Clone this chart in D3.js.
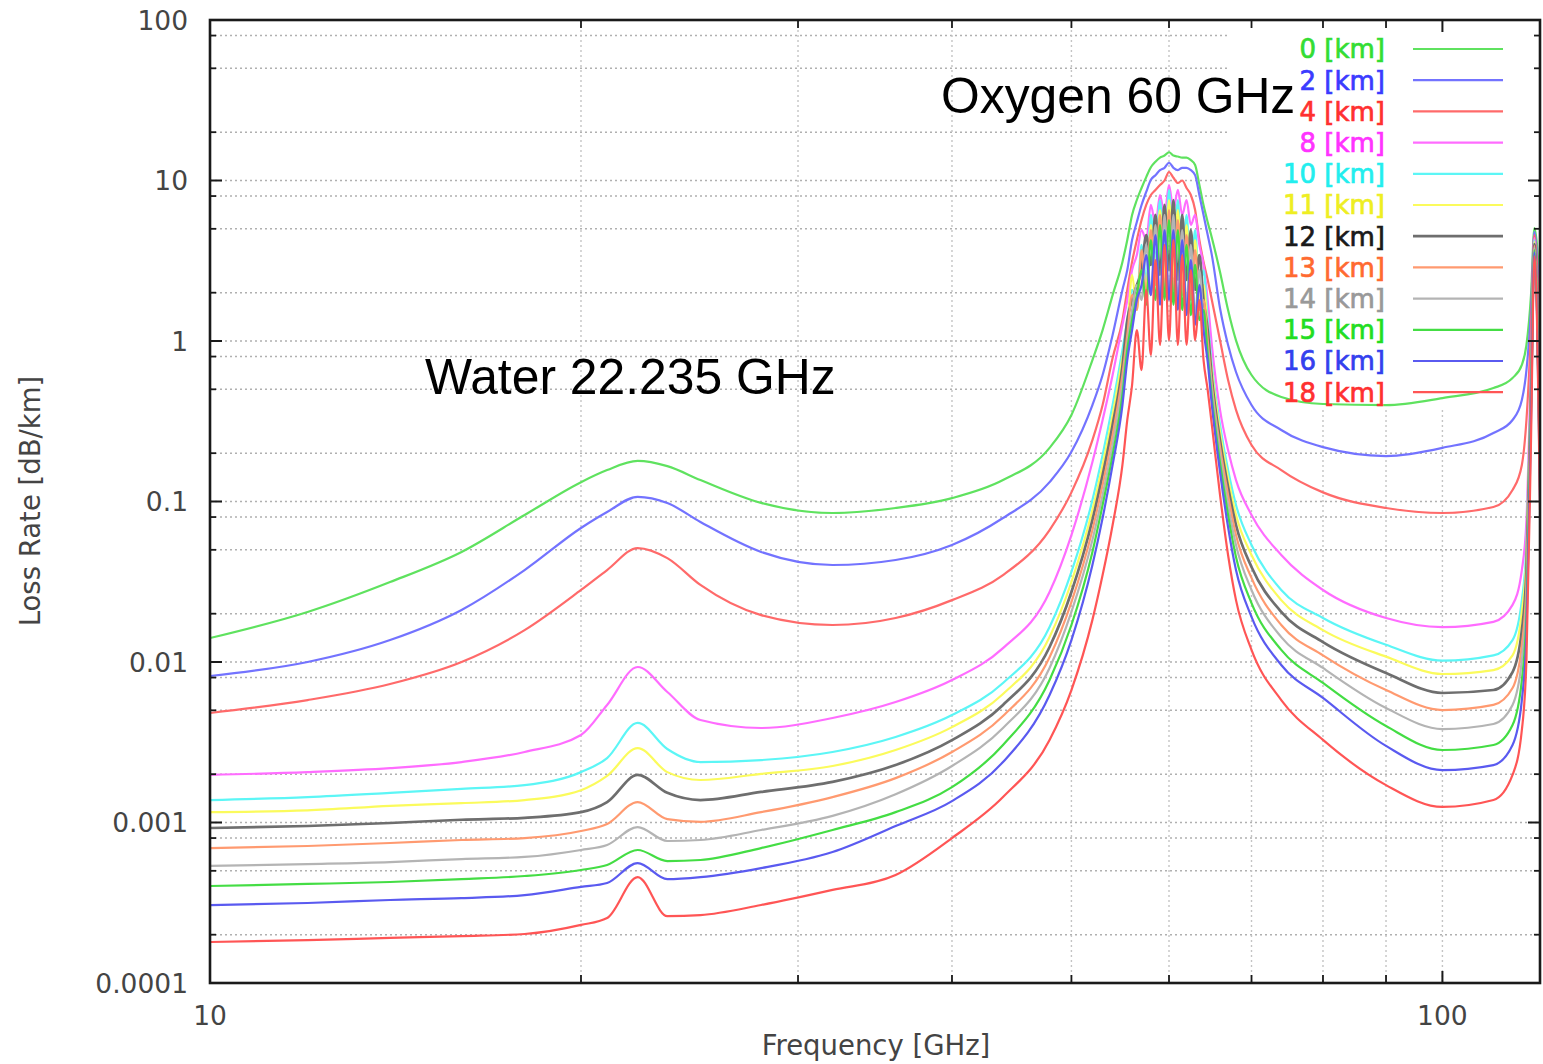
<!DOCTYPE html>
<html><head><meta charset="utf-8">
<script src="https://cdn.jsdelivr.net/npm/d3@7"></script>
<style>
html,body{margin:0;padding:0;background:#fff;}
svg{display:block;}
</style></head>
<body>
<svg id="chart" width="1543" height="1064"></svg>
<script>
// ---------- data (frequency in GHz, loss in dB/km) ----------
const freqs = [10, 12, 14, 16, 18, 20, 21, 22.235, 23.5, 25, 28, 32, 36, 40, 44, 48, 50, 52, 53, 54,
  55, 55.5, 56, 56.5, 57, 57.5, 58, 58.5, 59, 59.5, 60, 60.5, 61, 61.5, 62, 62.5, 63, 63.5, 64, 64.5,
  65, 66, 67, 68, 70, 74, 80, 90, 100, 110, 114, 116, 117, 118, 118.75, 120];

const altitudes = ["0", "2", "4", "8", "10", "11", "12", "13", "14", "15", "16", "18"];

const loss0km = [0.0141, 0.0205, 0.0315, 0.0485, 0.0824, 0.132, 0.157, 0.179, 0.166, 0.136,
  0.098, 0.0848, 0.0911, 0.105, 0.136, 0.216, 0.346, 0.761, 1.17, 1.93,
  3.11, 4.26, 6.1, 7.56, 8.98, 10.5, 12.1, 13.1, 13.9, 14.3,
  15.0, 14.3, 14.1, 13.9, 13.9, 13.4, 12.5, 9.4, 7.0, 5.5,
  4.4, 2.69, 1.56, 1.01, 0.614, 0.448, 0.405, 0.399, 0.441, 0.509,
  0.588, 0.709, 0.944, 1.93, 5.06, 2.08];
const loss2km = [0.00818, 0.0100, 0.0137, 0.0211, 0.0374, 0.0684, 0.0860, 0.107, 0.0979, 0.0745,
  0.0485, 0.0402, 0.0432, 0.0536, 0.0789, 0.132, 0.204, 0.399, 0.614, 1.09,
  2.08, 2.77, 4.26, 5.51, 7.04, 8.48, 10.1, 10.8, 11.6, 12.0,
  12.9, 12.0, 11.6, 12.0, 12.0, 11.6, 10.8, 8.12, 6.1, 4.57,
  3.43, 1.60, 0.944, 0.641, 0.399, 0.279, 0.218, 0.192, 0.216, 0.267,
  0.322, 0.429, 0.659, 1.56, 4.78, 1.35];
const loss4km = [0.00481, 0.00579, 0.00729, 0.0100, 0.0158, 0.0281, 0.0374, 0.0513, 0.0444, 0.0302,
  0.0196, 0.0170, 0.0188, 0.0243, 0.0348, 0.0664, 0.114, 0.241, 0.399, 0.784,
  1.35, 2.08, 3.11, 4.26, 5.67, 7.04, 8.12, 8.73, 9.37, 10.0,
  11.3, 10.4, 9.65, 10.0, 8.98, 8.12, 6.55, 4.26, 3.11, 2.40,
  1.80, 1.01, 0.571, 0.372, 0.225, 0.157, 0.114, 0.0911, 0.0848, 0.0924,
  0.118, 0.169, 0.322, 1.17, 4.57, 0.879];
const loss8km = [0.00198, 0.00206, 0.00218, 0.00238, 0.00275, 0.00351, 0.0054, 0.00931, 0.0065, 0.00435,
  0.00388, 0.00448, 0.00563, 0.00772, 0.0122, 0.0273, 0.0618, 0.176, 0.322, 0.614,
  1.26, 1.80, 2.77, 3.43, 4.91, 4.26, 7.04, 5.28, 8.12, 6.1,
  9.37, 6.55, 8.73, 6.1, 7.56, 5.28, 6.1, 3.97, 2.98, 1.80,
  0.944, 0.372, 0.209, 0.136, 0.0824, 0.0464, 0.0281, 0.0188, 0.0165, 0.0178,
  0.0227, 0.0374, 0.0767, 0.761, 4.38, 0.322];
const loss10km = [0.00138, 0.00144, 0.00153, 0.00162, 0.00171, 0.00206, 0.00252, 0.00417, 0.00287, 0.00238,
  0.00245, 0.00275, 0.00341, 0.00467, 0.0074, 0.0165, 0.0364, 0.102, 0.195, 0.399,
  0.879, 1.35, 2.08, 1.80, 3.97, 2.40, 6.1, 3.19, 7.56, 2.77,
  8.73, 2.98, 7.56, 2.58, 6.1, 2.40, 4.91, 2.08, 2.77, 1.35,
  0.709, 0.300, 0.157, 0.0951, 0.0536, 0.0281, 0.0188, 0.0128, 0.0102, 0.0110,
  0.0137, 0.0243, 0.0536, 0.571, 4.26, 0.241];
const loss11km = [0.00116, 0.00119, 0.00127, 0.00132, 0.00138, 0.00159, 0.00195, 0.00291, 0.00206, 0.00184,
  0.00201, 0.00225, 0.00283, 0.00393, 0.00632, 0.0143, 0.0315, 0.0885, 0.169, 0.346,
  0.784, 1.17, 2.58, 1.56, 3.43, 2.08, 5.28, 2.77, 6.55, 2.40,
  7.56, 2.58, 6.55, 2.23, 5.28, 2.08, 4.26, 1.80, 2.23, 1.17,
  0.659, 0.271, 0.140, 0.0824, 0.0464, 0.0243, 0.0158, 0.0108, 0.00842, 0.00891,
  0.0110, 0.0205, 0.0464, 0.532, 4.14, 0.209];
const loss12km = [0.000924, 0.000951, 0.000993, 0.00104, 0.00107, 0.00116, 0.00134, 0.00198, 0.00153, 0.00138,
  0.00155, 0.00179, 0.00228, 0.00326, 0.0054, 0.0124, 0.0273, 0.0767, 0.146, 0.300,
  0.698, 1.35, 1.80, 2.23, 2.77, 4.57, 2.98, 6.1, 2.58, 7.04,
  2.77, 7.56, 2.40, 6.1, 2.40, 4.91, 2.08, 3.43, 1.80, 1.17,
  0.588, 0.241, 0.123, 0.0714, 0.0391, 0.0205, 0.0133, 0.00854, 0.00641, 0.00669,
  0.00866, 0.0158, 0.0374, 0.495, 4.02, 0.181];
const loss13km = [0.000693, 0.000714, 0.000745, 0.000778, 0.0008, 0.000885, 0.000979, 0.00134, 0.00105, 0.00101,
  0.00116, 0.00144, 0.00189, 0.00275, 0.00461, 0.0107, 0.0236, 0.0664, 0.127, 0.259,
  0.614, 1.09, 1.93, 1.56, 3.69, 1.93, 4.91, 2.23, 6.1, 2.08,
  6.55, 2.08, 5.67, 1.93, 4.57, 1.80, 3.69, 1.56, 1.80, 1.01,
  0.532, 0.218, 0.110, 0.0618, 0.0334, 0.0170, 0.0110, 0.00669, 0.00502, 0.0054,
  0.00688, 0.0128, 0.0302, 0.429, 3.91, 0.157];
const loss14km = [0.000536, 0.000551, 0.000567, 0.000592, 0.000610, 0.000674, 0.000724, 0.000937, 0.000767, 0.000778,
  0.000898, 0.00110, 0.00150, 0.00225, 0.00388, 0.00918, 0.0205, 0.0575, 0.110, 0.225,
  0.532, 0.944, 1.56, 2.23, 1.80, 3.97, 1.93, 5.28, 1.80, 6.1,
  1.93, 6.1, 1.80, 4.91, 1.68, 3.97, 1.45, 2.77, 1.35, 0.879,
  0.495, 0.195, 0.0951, 0.0536, 0.0281, 0.0143, 0.00918, 0.00517, 0.00382, 0.00411,
  0.0054, 0.0103, 0.0243, 0.399, 3.80, 0.136];
const loss15km = [0.000402, 0.000414, 0.000426, 0.000444, 0.000464, 0.000506, 0.000544, 0.000674, 0.000575, 0.000584,
  0.000693, 0.000898, 0.00116, 0.00166, 0.00304, 0.00772, 0.0170, 0.0485, 0.0951, 0.195,
  0.461, 0.879, 1.35, 1.93, 2.77, 1.68, 4.26, 1.80, 5.28, 1.80,
  5.67, 1.68, 4.91, 1.56, 3.97, 1.45, 2.98, 1.35, 1.56, 0.818,
  0.441, 0.174, 0.0824, 0.0451, 0.0233, 0.0119, 0.00740, 0.00399, 0.00283, 0.00304,
  0.00405, 0.00772, 0.0196, 0.372, 3.69, 0.118];
const loss16km = [0.000306, 0.000315, 0.000329, 0.000338, 0.000353, 0.000397, 0.00042, 0.000559, 0.000444, 0.000457,
  0.00052, 0.000655, 0.000951, 0.00136, 0.00238, 0.00623, 0.0137, 0.0402, 0.0789, 0.169,
  0.399, 0.761, 1.17, 1.80, 2.23, 3.43, 1.93, 4.57, 1.68, 4.91,
  1.80, 4.91, 1.56, 4.26, 1.45, 3.19, 1.26, 2.23, 1.17, 0.740,
  0.399, 0.153, 0.0694, 0.0374, 0.0191, 0.00958, 0.00597, 0.00300, 0.00212, 0.00228,
  0.00304, 0.00579, 0.0147, 0.322, 3.57, 0.102];
const loss18km = [0.000180, 0.000185, 0.000191, 0.000196, 0.000202, 0.000230, 0.000254, 0.000457, 0.000261, 0.000265,
  0.000306, 0.000380, 0.000471, 0.000800, 0.00144, 0.00327, 0.00669, 0.0183, 0.0348, 0.0714,
  0.169, 0.322, 0.532, 1.17, 0.659, 2.08, 0.818, 3.19, 0.944, 3.97,
  1.01, 4.26, 0.944, 3.43, 0.944, 2.77, 1.01, 1.80, 0.761, 0.495,
  0.300, 0.110, 0.0464, 0.0243, 0.0119, 0.00579, 0.00327, 0.00171, 0.00125, 0.00138,
  0.00198, 0.00377, 0.0103, 0.241, 3.37, 0.0885];

const seriesValues = [loss0km, loss2km, loss4km, loss8km, loss10km, loss11km,
  loss12km, loss13km, loss14km, loss15km, loss16km, loss18km];

const yTickValues = [100, 10, 1, 0.1, 0.01, 0.001, 0.0001];
const yTickLabels = ["100", "10", "1", "0.1", "0.01", "0.001", "0.0001"];
const xTickValues = [10, 100];
const xTickLabels = ["10", "100"];
const xMinorTicks = [20, 30, 40, 50, 60, 70, 80, 90];
const yMinorMantissas = [2, 5, 8];

// ---------- styles ----------
const lineColors = ["#5fe25f", "#7373ff", "#ff6a6a", "#ff6cff", "#5cf6f6", "#fbfb5c",
  "#6e6e6e", "#ff9a70", "#b4b4b4", "#44dd44", "#5a5af0", "#ff5555"];
const labelColors = ["#33dd33", "#3b3bff", "#ff3030", "#ff33ff", "#22eeee", "#eeee22",
  "#1a1a1a", "#ff6a30", "#999999", "#22dd22", "#3340ee", "#ff3030"];

const svg = d3.select("#chart");
const L = 210, R = 1540, T = 20, B = 983;
const x = d3.scaleLog().domain([10, 120]).range([L, R]);
const y = d3.scaleLog().domain([1e-4, 100]).range([B, T]);

svg.append("rect").attr("width", 1543).attr("height", 1064).attr("fill", "#fff");

// grid
const gGrid = svg.append("g");
const hGrid = [];
for (let e = -4; e <= 1; e++) {
  [1].concat(yMinorMantissas).forEach(m => { const v = m * Math.pow(10, e); if (v > 1e-4 && v < 100) hGrid.push(v); });
}
gGrid.selectAll(".hg").data(hGrid).join("line")
  .attr("x1", L).attr("x2", R).attr("y1", d => y(d)).attr("y2", d => y(d))
  .attr("stroke", "#b0b0b0").attr("stroke-width", 1.4).attr("stroke-dasharray", "2,3");
gGrid.selectAll(".vg").data(xMinorTicks.concat([100])).join("line")
  .attr("x1", d => x(d)).attr("x2", d => x(d)).attr("y1", T).attr("y2", B)
  .attr("stroke", "#c4c4c4").attr("stroke-width", 1.4).attr("stroke-dasharray", "2,3");

// legend background (key area hides the grid)
svg.append("rect").attr("x", 1228).attr("y", T + 1).attr("width", R - 1228 - 1).attr("height", 386)
  .attr("fill", "#fff");

// curves
svg.append("clipPath").attr("id", "plotclip").append("rect")
  .attr("x", L).attr("y", T).attr("width", R - L).attr("height", B - T);
const line = d3.line().x(d => x(d[0])).y(d => y(d[1])).curve(d3.curveMonotoneX);
const gLines = svg.append("g").attr("clip-path", "url(#plotclip)");
seriesValues.forEach((vals, i) => {
  const pts = freqs.map((f, j) => [f, vals[j]]).filter(d => d[1] !== undefined);
  gLines.append("path").datum(pts).attr("d", line)
    .attr("fill", "none").attr("stroke", lineColors[i])
    .attr("stroke-width", i === 6 ? 2.7 : 2.2).attr("stroke-linejoin", "round");
});

// axes: border + ticks
const gAx = svg.append("g").attr("stroke", "#1a1a1a");
gAx.append("rect").attr("x", L).attr("y", T).attr("width", R - L).attr("height", B - T)
  .attr("fill", "none").attr("stroke-width", 2.6);
yTickValues.forEach(v => {
  gAx.append("line").attr("x1", L).attr("x2", L + 12).attr("y1", y(v)).attr("y2", y(v)).attr("stroke-width", 2);
  gAx.append("line").attr("x1", R).attr("x2", R - 12).attr("y1", y(v)).attr("y2", y(v)).attr("stroke-width", 2);
});
hGrid.filter(v => !yTickValues.includes(v)).forEach(v => {
  gAx.append("line").attr("x1", L).attr("x2", L + 6).attr("y1", y(v)).attr("y2", y(v)).attr("stroke-width", 1.8);
  gAx.append("line").attr("x1", R).attr("x2", R - 6).attr("y1", y(v)).attr("y2", y(v)).attr("stroke-width", 1.8);
});
xMinorTicks.forEach(v => {
  gAx.append("line").attr("x1", x(v)).attr("x2", x(v)).attr("y1", B).attr("y2", B - 8).attr("stroke-width", 1.8);
  gAx.append("line").attr("x1", x(v)).attr("x2", x(v)).attr("y1", T).attr("y2", T + 8).attr("stroke-width", 1.8);
});
[100].forEach(v => {
  gAx.append("line").attr("x1", x(v)).attr("x2", x(v)).attr("y1", B).attr("y2", B - 12).attr("stroke-width", 2);
  gAx.append("line").attr("x1", x(v)).attr("x2", x(v)).attr("y1", T).attr("y2", T + 12).attr("stroke-width", 2);
});

// tick labels
const tickFont = "'DejaVu Sans', sans-serif";
svg.selectAll(".yl").data(yTickValues).join("text")
  .attr("x", 188).attr("y", d => y(d)).attr("dy", "0.36em")
  .attr("text-anchor", "end").attr("font-family", tickFont).attr("font-size", 26.5)
  .attr("fill", "#444").text((d, i) => yTickLabels[i]);
svg.selectAll(".xl").data(xTickValues).join("text")
  .attr("x", d => x(d)).attr("y", 1015).attr("dy", "0.36em")
  .attr("text-anchor", "middle").attr("font-family", tickFont).attr("font-size", 26.5)
  .attr("fill", "#444").text((d, i) => xTickLabels[i]);

// axis titles
svg.append("text").attr("x", 876).attr("y", 1045).attr("dy", "0.36em")
  .attr("text-anchor", "middle").attr("font-family", tickFont).attr("font-size", 27.5)
  .attr("fill", "#444").text("Frequency [GHz]");
svg.append("text").attr("transform", "translate(30,501) rotate(-90)").attr("dy", "0.36em")
  .attr("text-anchor", "middle").attr("font-family", tickFont).attr("font-size", 27.5)
  .attr("fill", "#444").text("Loss Rate [dB/km]");

// legend
const gLeg = svg.append("g");
altitudes.forEach((a, i) => {
  const ly = 49 + i * 31.2;
  gLeg.append("text").attr("x", 1385).attr("y", ly).attr("dy", "0.36em")
    .attr("text-anchor", "end").attr("font-family", tickFont).attr("font-size", 26)
    .attr("fill", labelColors[i]).attr("stroke", labelColors[i]).attr("stroke-width", 0.7)
    .text(a + " [km]");
  gLeg.append("line").attr("x1", 1413).attr("x2", 1503).attr("y1", ly).attr("y2", ly)
    .attr("stroke", lineColors[i]).attr("stroke-width", i === 6 ? 2.7 : 2.2);
});

// annotations
const annFont = "'Liberation Sans', Arial, Helvetica, sans-serif";
svg.append("text").attr("x", 941).attr("y", 113).attr("font-family", annFont)
  .attr("font-size", 49.8).attr("fill", "#000").text("Oxygen 60 GHz");
svg.append("text").attr("x", 425).attr("y", 394).attr("font-family", annFont)
  .attr("font-size", 49.8).attr("fill", "#000").text("Water 22.235 GHz");
</script>
</body></html>
